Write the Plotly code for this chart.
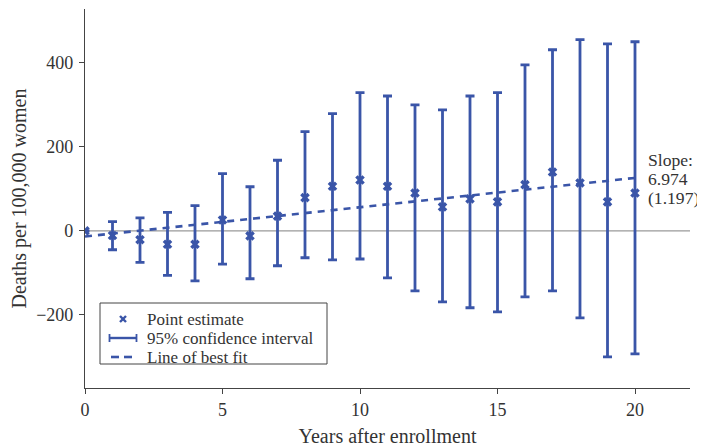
import plotly.graph_objects as go

years = list(range(0, 21))
estimate = [0, -11, -21, -32, -32, 26, -12, 35, 79, 106, 121, 106, 90, 57, 76, 69, 110, 140, 114, 69, 90]
upper = [0, 22, 31, 44, 60, 136, 105, 168, 236, 279, 329, 321, 300, 288, 321, 329, 395, 431, 455, 445, 450]
lower = [0, -45, -75, -106, -119, -79, -114, -83, -64, -69, -67, -112, -143, -169, -183, -193, -157, -143, -207, -300, -293]
fit_x = [0, 20]
fit_y = [-13.5, 126]
slope_lines = ["Slope:", "6.974", "(1.197)"]
legend_labels = ["Point estimate", "95% confidence interval", "Line of best fit"]

BLUE = "#3a55a8"
FONT = "Liberation Serif"
TXT = "#333333"

OFF = 8  # page body margin
W, H = 705 - OFF, 448 - OFF
ML, MR, MT, MB = 85 - OFF, 15, 9 - OFF, 60
PW, PH = W - ML - MR, H - MT - MB


def px(xp):
    return (xp - OFF - ML) / PW


def py(yp):
    return (MT + PH - (yp - OFF)) / PH


err_plus = [u - e for u, e in zip(upper, estimate)]
err_minus = [e - l for e, l in zip(estimate, lower)]

fig = go.Figure()

# zero reference line
fig.add_trace(go.Scatter(x=[0, 22], y=[0, 0], mode="lines",
                         line=dict(color="#9a9a9a", width=1.2),
                         showlegend=False, hoverinfo="skip"))

# confidence intervals (error bars only)
fig.add_trace(go.Scatter(x=years, y=estimate, mode="markers",
                         marker=dict(size=0.1, opacity=0, color=BLUE),
                         showlegend=False,
                         error_y=dict(type="data", symmetric=False, array=err_plus,
                                      arrayminus=err_minus, color=BLUE,
                                      thickness=2.8, width=4.5)))

# fit line
fig.add_trace(go.Scatter(x=fit_x, y=fit_y, mode="lines",
                         line=dict(color=BLUE, width=2.6, dash="7px,6px"),
                         showlegend=False))

# point estimates
fig.add_trace(go.Scatter(x=years, y=estimate, mode="markers",
                         marker=dict(symbol="x", size=8.5, color=BLUE,
                                     line=dict(width=0)),
                         showlegend=False))

# slope annotation
for i, t in enumerate(slope_lines):
    fig.add_annotation(x=px(646), y=py(160 + 19 * i), xref="paper", yref="paper",
                       text=t, showarrow=False, xanchor="left", yanchor="middle",
                       align="left", font=dict(family=FONT, size=17.6, color=TXT))

# manual legend
shapes = []
shapes.append(dict(type="rect", xref="paper", yref="paper",
                   x0=px(100), x1=px(327), y0=py(364), y1=py(303),
                   line=dict(color="#444", width=1), fillcolor="white", layer="above"))
# x marker glyph
shapes.append(dict(type="line", xref="paper", yref="paper", x0=px(120), x1=px(126),
                   y0=py(316), y1=py(322), line=dict(color=BLUE, width=2.4), layer="above"))
shapes.append(dict(type="line", xref="paper", yref="paper", x0=px(120), x1=px(126),
                   y0=py(322), y1=py(316), line=dict(color=BLUE, width=2.4), layer="above"))
# CI glyph
shapes.append(dict(type="line", xref="paper", yref="paper", x0=px(109), x1=px(137),
                   y0=py(338), y1=py(338), line=dict(color=BLUE, width=2.4), layer="above"))
for xx in (109.5, 136.5):
    shapes.append(dict(type="line", xref="paper", yref="paper", x0=px(xx), x1=px(xx),
                       y0=py(334), y1=py(342), line=dict(color=BLUE, width=1.8), layer="above"))
# dashed glyph
for a, b in ((111, 119), (124, 132)):
    shapes.append(dict(type="line", xref="paper", yref="paper", x0=px(a), x1=px(b),
                       y0=py(357), y1=py(357), line=dict(color=BLUE, width=2.6), layer="above"))

for i, t in enumerate(legend_labels):
    fig.add_annotation(x=px(145), y=py(319 + 19 * i), xref="paper", yref="paper",
                       text=t, showarrow=False, xanchor="left", yanchor="middle",
                       font=dict(family=FONT, size=17, color=TXT))

fig.update_layout(
    width=W, height=H,
    margin=dict(l=ML, r=MR, t=MT, b=MB),
    plot_bgcolor="white", paper_bgcolor="white",
    font=dict(family=FONT, size=17, color=TXT),
    showlegend=False,
    shapes=shapes,
)
fig.update_xaxes(range=[0, 22], tickvals=[0, 5, 10, 15, 20], showgrid=False,
                 zeroline=False, showline=True, linecolor="#444", linewidth=1.2,
                 ticks="outside", ticklen=5, tickcolor="#444", automargin=False,
                 tickfont=dict(family=FONT, size=18, color=TXT),
                 title=dict(text="Years after enrollment", standoff=10,
                            font=dict(family=FONT, size=20, color=TXT)))
fig.update_yaxes(range=[-374, 528], tickvals=[-200, 0, 200, 400], showgrid=False,
                 zeroline=False, showline=True, linecolor="#444", linewidth=1.2,
                 ticks="outside", ticklen=5, tickcolor="#444", automargin=False,
                 tickformat="d", ticklabelstandoff=2,
                 tickfont=dict(family=FONT, size=18, color=TXT),
                 title=dict(text="Deaths per 100,000 women", standoff=8,
                            font=dict(family=FONT, size=20, color=TXT)))

fig.write_html("out.html")
